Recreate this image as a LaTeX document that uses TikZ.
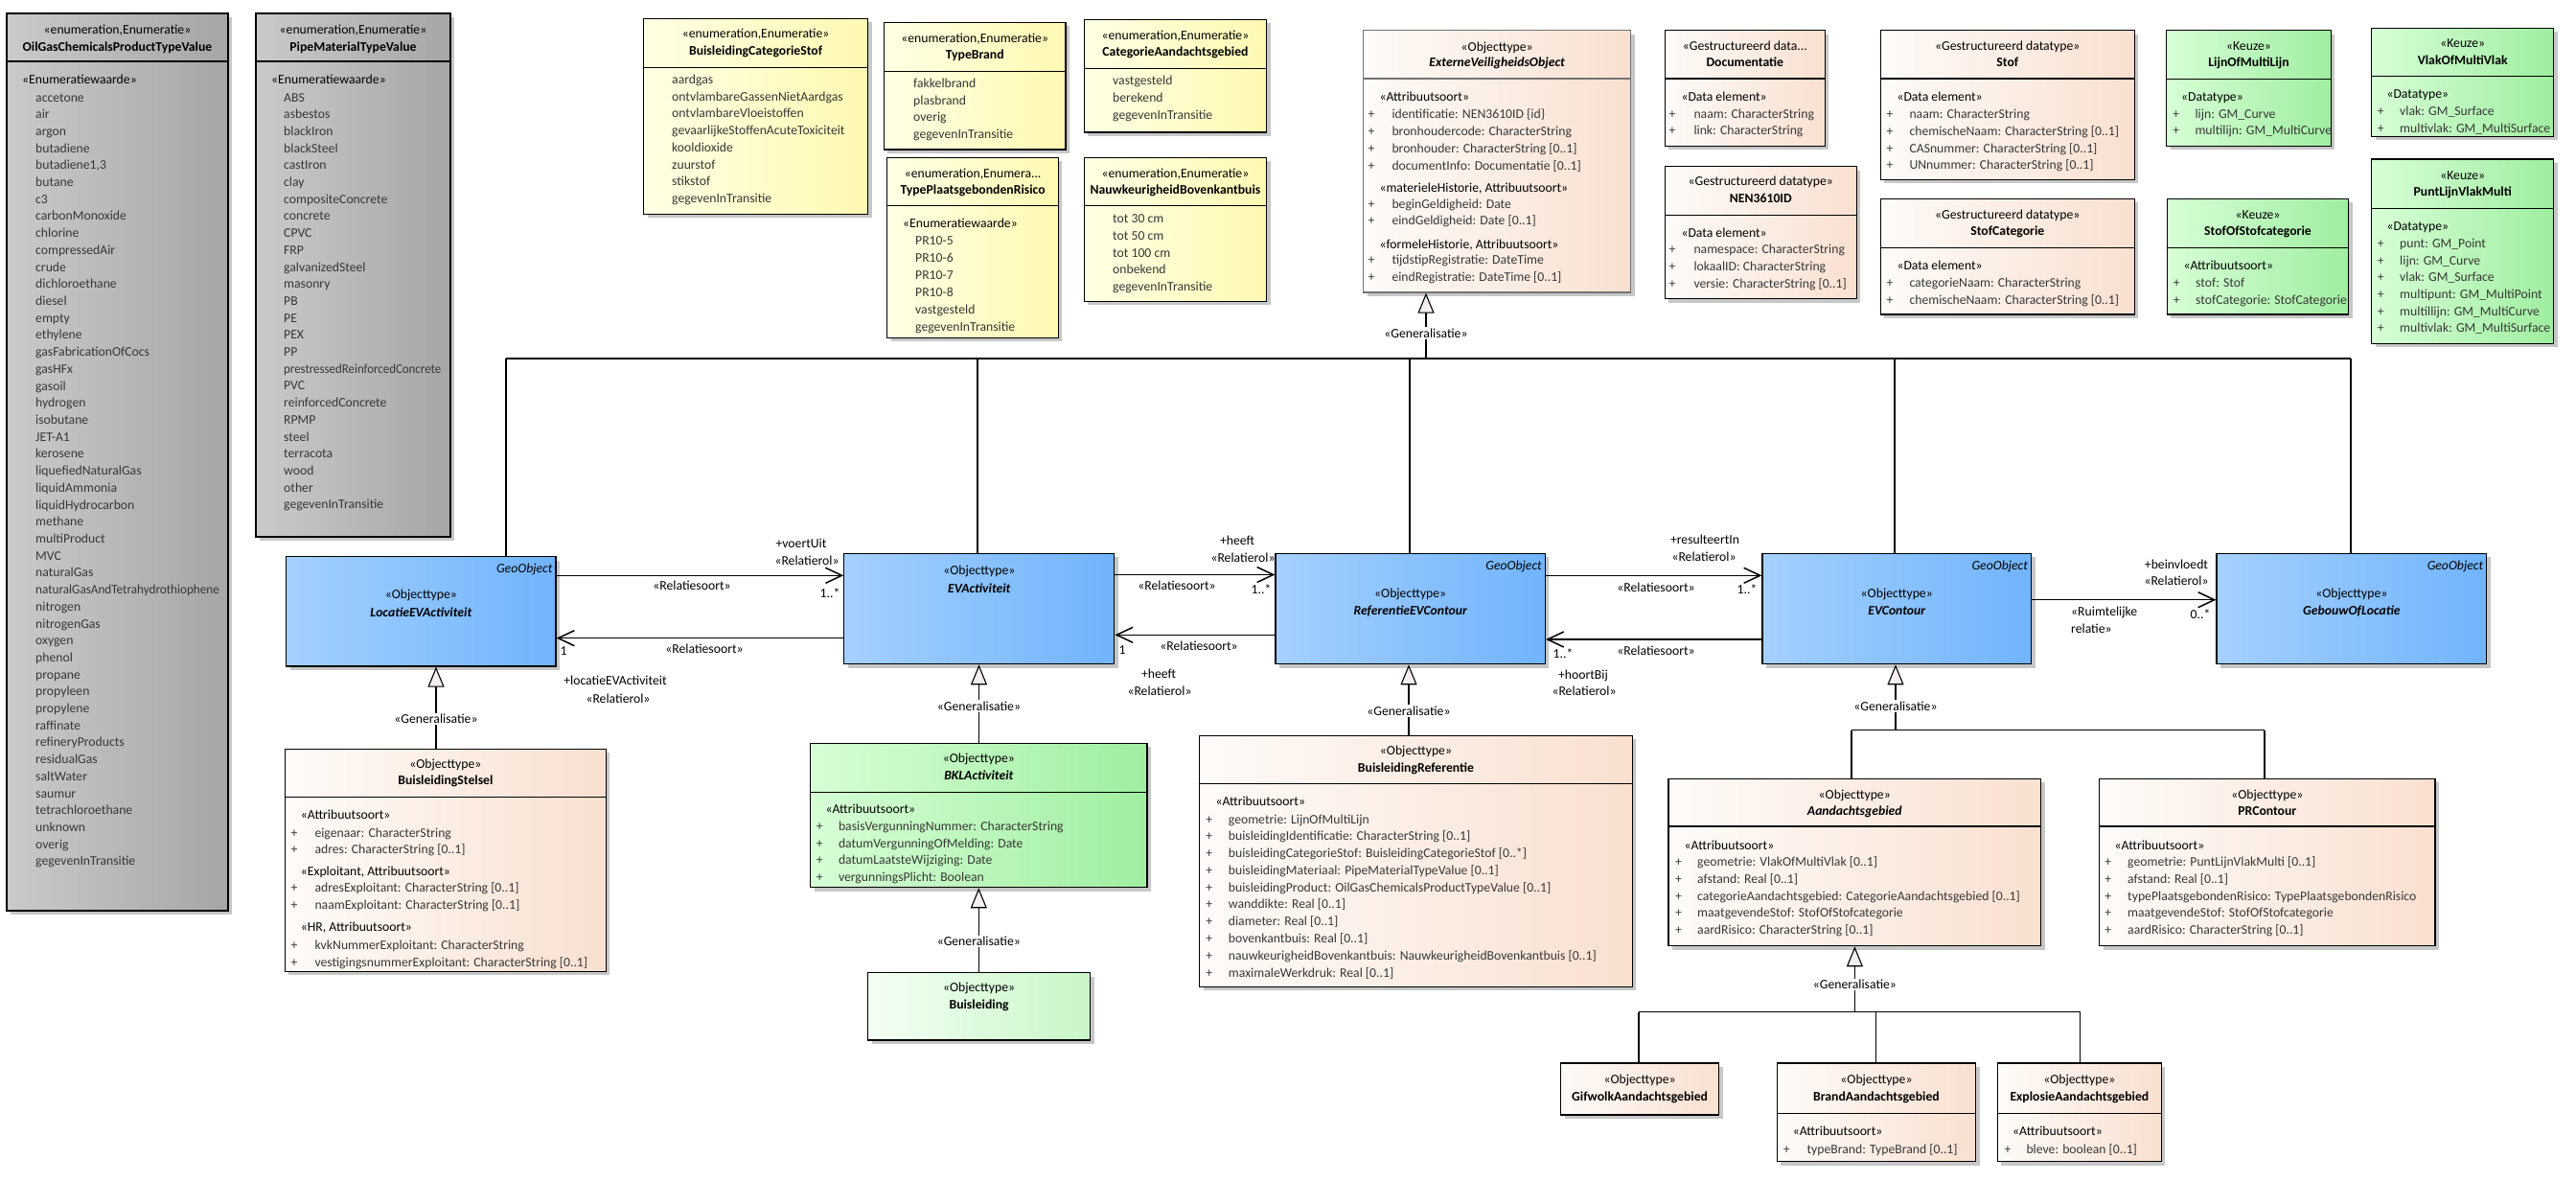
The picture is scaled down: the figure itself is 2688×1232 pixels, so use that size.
\documentclass[tikz,border=0pt]{standalone}
\usepackage{fontspec}
\usepackage{graphicx}
\setmainfont{Carlito}
\usetikzlibrary{arrows.meta,shadows,fit}
\definecolor{grayL}{RGB}{202,202,202}
\definecolor{grayR}{RGB}{166,166,166}
\definecolor{yelL}{RGB}{255,255,228}
\definecolor{yelR}{RGB}{255,249,178}
\definecolor{peachL}{RGB}{254,251,248}
\definecolor{peachR}{RGB}{249,224,208}
\definecolor{grnL}{RGB}{214,255,214}
\definecolor{grnR}{RGB}{160,238,160}
\definecolor{lgrnL}{RGB}{244,255,244}
\definecolor{lgrnR}{RGB}{200,246,200}
\definecolor{bluL}{RGB}{165,208,255}
\definecolor{bluR}{RGB}{112,180,252}
\definecolor{txtgray}{RGB}{55,55,55}
\definecolor{genfill}{RGB}{246,238,238}
\newcommand\fs{\fontsize{13.7pt}{17.7pt}\selectfont}
\tikzset{
  box/.style={draw=black,line width=1.2pt,inner sep=0pt,
    drop shadow={shadow xshift=4pt,shadow yshift=-4pt,fill=black!22,opacity=1}},
  graybox/.style={box,left color=grayL,right color=grayR},
  yelbox/.style={box,left color=yelL,right color=yelR},
  peachbox/.style={box,left color=peachL,right color=peachR},
  grnbox/.style={box,left color=grnL,right color=grnR},
  lgrnbox/.style={box,left color=lgrnL,right color=lgrnR},
  blubox/.style={box,left color=bluL,right color=bluR},
  sepline/.style={line width=1.2pt},
  ctr/.style={anchor=base,inner sep=0pt,yshift=-4pt,font=\fs},
  lft/.style={anchor=base west,inner sep=0pt,yshift=-4pt,font=\fs},
  rgt/.style={anchor=base east,inner sep=0pt,yshift=-4pt,xshift=-4pt,font=\fs\itshape},
  itm/.style={lft,text=txtgray},
  glab/.style={ctr,fill=white,inner sep=1.5pt},
  gen/.style={line width=1.1pt,-{Triangle[length=21pt,width=17pt,fill=genfill]}},
  genl/.style={line width=1.1pt},
  assoc/.style={line width=1.5pt,-{Straight Barb[length=17pt,width=16pt,line width=1.5pt]}},
}
\newcommand\umlcls[6]{\node[#6,fit={(#2,#3) (#4,#5)}] (#1) {};}
\newcommand\sepl[2]{\draw[sepline] (#1.west |- 0,#2) -- (#1.east |- 0,#2);}
\newcommand\hdr[5]{\node[ctr] (#1-st) at (#1.north |- 0,#2) {#4};\node[ctr,font=\fs\bfseries] (#1-ti) at (#1.north |- 0,#3) {#5};}
\newcommand\stl[4]{\node[lft] (#1) at (#2,#3) {#4};}
\newcommand\items[5]{\foreach \t [count=\i from 0] in {#5}{\node[itm] (#1-\i) at (#2,{#3+\i*#4}) {\t};}}
\newcommand\attrs[6]{\foreach \t [count=\i from 0] in {#6}{\node[ctr,text=txtgray] (#1-p\i) at (#2,{#4+\i*#5}) {+};\node[itm] (#1-\i) at (#3,{#4+\i*#5}) {\t};}}
\begin{document}
\begin{tikzpicture}[x=1pt,y=-1pt]
\fill[white] (0,0) rectangle (2688,1232);
\useasboundingbox (0,0) rectangle (2688,1232);

% ---------- gray enumerations
\umlcls{oil}{7}{14}{238}{950}{graybox}
\sepl{oil}{64}
\hdr{oil}{31}{49}{«enumeration,Enumeratie»}{OilGasChemicalsProductTypeValue}
\stl{oil-s1}{23}{83}{«Enumeratiewaarde»}
\items{oili}{37}{102}{17.71}{accetone,air,argon,butadiene,{butadiene1,3},butane,c3,carbonMonoxide,chlorine,compressedAir,crude,dichloroethane,diesel,empty,ethylene,gasFabricationOfCocs,gasHFx,gasoil,hydrogen,isobutane,JET-A1,kerosene,liquefiedNaturalGas,liquidAmmonia,liquidHydrocarbon,methane,multiProduct,MVC,naturalGas,{\scalebox{0.96}[1]{naturalGasAndTetrahydrothiophene}},nitrogen,nitrogenGas,oxygen,phenol,propane,propyleen,propylene,raffinate,refineryProducts,residualGas,saltWater,saumur,tetrachloroethane,unknown,overig,gegevenInTransitie}

\umlcls{pipe}{267}{14}{470}{560}{graybox}
\sepl{pipe}{64}
\hdr{pipe}{31}{49}{«enumeration,Enumeratie»}{PipeMaterialTypeValue}
\stl{pipe-s1}{283}{83}{«Enumeratiewaarde»}
\items{pipei}{296}{102}{17.7}{ABS,asbestos,blackIron,blackSteel,castIron,clay,compositeConcrete,concrete,CPVC,FRP,galvanizedSteel,masonry,PB,PE,PEX,PP,{\scalebox{0.94}[1]{prestressedReinforcedConcrete}},PVC,reinforcedConcrete,RPMP,steel,terracota,wood,other,gegevenInTransitie}

% ---------- yellow enumerations
\umlcls{bcs}{671.5}{19.3}{905.7}{223.3}{yelbox}
\sepl{bcs}{70.3}
\hdr{bcs}{35.3}{53.3}{«enumeration,Enumeratie»}{BuisleidingCategorieStof}
\items{bcsi}{701}{83.3}{17.77}{aardgas,ontvlambareGassenNietAardgas,ontvlambareVloeistoffen,gevaarlijkeStoffenAcuteToxiciteit,kooldioxide,zuurstof,stikstof,gegevenInTransitie}

\umlcls{tb}{922.4}{23.3}{1112}{156}{yelbox}
\sepl{tb}{74.3}
\hdr{tb}{40}{57.7}{«enumeration,Enumeratie»}{TypeBrand}
\items{tbi}{953}{87.3}{17.8}{fakkelbrand,plasbrand,overig,gegevenInTransitie}

\umlcls{cag}{1131.4}{20.3}{1321.5}{138}{yelbox}
\sepl{cag}{71.3}
\hdr{cag}{37.7}{54.7}{«enumeration,Enumeratie»}{CategorieAandachtsgebied}
\items{cagi}{1161}{84.7}{18}{vastgesteld,berekend,gegevenInTransitie}

\umlcls{tpr}{925.8}{164.3}{1104.4}{352.3}{yelbox}
\sepl{tpr}{214.3}
\hdr{tpr}{181}{198.7}{«enumeration,Enumera...}{TypePlaatsgebondenRisico}
\stl{tpr-s1}{942}{233.3}{«Enumeratiewaarde»}
\items{tpri}{955}{251.7}{17.9}{PR10-5,PR10-6,PR10-7,PR10-8,vastgesteld,gegevenInTransitie}

\umlcls{nbk}{1131.4}{164.3}{1321.5}{314.3}{yelbox}
\sepl{nbk}{214.3}
\hdr{nbk}{181}{198.3}{«enumeration,Enumeratie»}{NauwkeurigheidBovenkantbuis}
\items{nbki}{1161}{228.7}{17.65}{tot 30 cm,tot 50 cm,tot 100 cm,onbekend,gegevenInTransitie}

% ---------- ExterneVeiligheidsObject
\umlcls{evo}{1422.7}{31.7}{1701.7}{305}{peachbox,draw=black!55}
\draw[sepline,draw=black!55] (evo.west |- 0,82) -- (evo.east |- 0,82);
\hdr{evo}{49.3}{65.3}{«Objecttype»}{\itshape ExterneVeiligheidsObject}
\stl{evo-s1}{1439.3}{101}{«Attribuutsoort»}
\attrs{evoa}{1431}{1452.3}{119}{18.1}{identificatie: NEN3610ID \{id\},bronhoudercode: CharacterString,bronhouder: CharacterString [0..1],documentInfo: Documentatie [0..1]}
\stl{evo-s2}{1439.3}{196}{«materieleHistorie, Attribuutsoort»}
\attrs{evob}{1431}{1452.3}{213.3}{17.4}{beginGeldigheid: Date,eindGeldigheid: Date [0..1]}
\stl{evo-s3}{1439.3}{255}{«formeleHistorie, Attribuutsoort»}
\attrs{evoc}{1431}{1452.3}{271.3}{17.7}{tijdstipRegistratie: DateTime,eindRegistratie: DateTime [0..1]}

% ---------- datatypes
\umlcls{doc}{1737.3}{31.7}{1904.3}{152.3}{peachbox}
\sepl{doc}{82}
\hdr{doc}{48.7}{65.3}{«Gestructureerd data...}{Documentatie}
\stl{doc-s1}{1754.3}{101.3}{«Data element»}
\attrs{doca}{1745}{1767.3}{119.7}{17}{naam: CharacterString,link: CharacterString}

\umlcls{nen}{1737.3}{173.7}{1937.3}{311.7}{peachbox}
\sepl{nen}{224.3}
\hdr{nen}{189.7}{207.3}{«Gestructureerd datatype»}{NEN3610ID}
\stl{nen-s1}{1754.3}{243.3}{«Data element»}
\attrs{nena}{1745}{1767.3}{260.7}{17.8}{namespace: CharacterString,lokaalID: CharacterString,versie: CharacterString [0..1]}

\umlcls{stof}{1962.3}{31.7}{2227.3}{187.3}{peachbox}
\sepl{stof}{82}
\hdr{stof}{48.7}{65.3}{«Gestructureerd datatype»}{Stof}
\stl{stof-s1}{1979.3}{101.3}{«Data element»}
\attrs{stofa}{1972}{1992.3}{119.7}{17.7}{naam: CharacterString,chemischeNaam: CharacterString [0..1],CASnummer: CharacterString [0..1],UNnummer: CharacterString [0..1]}

\umlcls{stc}{1962.3}{207.3}{2227.3}{328}{peachbox}
\sepl{stc}{258.3}
\hdr{stc}{224.3}{241.3}{«Gestructureerd datatype»}{StofCategorie}
\stl{stc-s1}{1979.3}{277.3}{«Data element»}
\attrs{stca}{1972}{1992.3}{295.7}{17.3}{categorieNaam: CharacterString,chemischeNaam: CharacterString [0..1]}

% ---------- Keuze (green)
\umlcls{lml}{2260.7}{31.7}{2432.3}{152.3}{grnbox}
\sepl{lml}{82.3}
\hdr{lml}{48.7}{65.3}{«Keuze»}{LijnOfMultiLijn}
\stl{lml-s1}{2276}{101.3}{«Datatype»}
\attrs{lmla}{2270.7}{2290.3}{119.3}{17.4}{lijn: GM\_Curve,multilijn: GM\_MultiCurve}

\umlcls{vmv}{2474.7}{29.3}{2664.7}{142.3}{grnbox}
\sepl{vmv}{79.3}
\hdr{vmv}{45.7}{63.3}{«Keuze»}{VlakOfMultiVlak}
\stl{vmv-s1}{2490.3}{98.7}{«Datatype»}
\attrs{vmva}{2484.3}{2504}{116.7}{17.6}{vlak: GM\_Surface,multivlak: GM\_MultiSurface}

\umlcls{sos}{2261.3}{207.3}{2450.7}{328}{grnbox}
\sepl{sos}{258.3}
\hdr{sos}{224.3}{241.3}{«Keuze»}{StofOfStofcategorie}
\stl{sos-s1}{2278.3}{277.3}{«Attribuutsoort»}
\attrs{sosa}{2271.3}{2291}{295.7}{17.3}{stof: Stof,stofCategorie: StofCategorie}

\umlcls{plv}{2474.7}{166}{2664.7}{358.3}{grnbox}
\sepl{plv}{217.3}
\hdr{plv}{183.3}{200.3}{«Keuze»}{PuntLijnVlakMulti}
\stl{plv-s1}{2490.3}{236.7}{«Datatype»}
\attrs{plva}{2484.3}{2504}{254.7}{17.6}{punt: GM\_Point,lijn: GM\_Curve,vlak: GM\_Surface,multipunt: GM\_MultiPoint,multillijn: GM\_MultiCurve,multivlak: GM\_MultiSurface}

% ---------- middle row (blue)
\umlcls{locev}{298.8}{580.7}{580}{695}{blubox}
\node[rgt] (locev-g) at (locev.east |- 0,593) {GeoObject};
\hdr{locev}{620}{639}{«Objecttype»}{\itshape LocatieEVActiviteit}

\umlcls{evact}{880.8}{577.3}{1162.8}{692.7}{blubox}
\hdr{evact}{595}{614.5}{«Objecttype»}{\itshape EVActiviteit}

\umlcls{ref}{1331}{577.3}{1612.4}{692.7}{blubox}
\node[rgt] (ref-g) at (ref.east |- 0,590.7) {GeoObject};
\hdr{ref}{619}{637.7}{«Objecttype»}{\itshape ReferentieEVContour}

\umlcls{evc}{1839}{577.3}{2119.5}{692.7}{blubox}
\node[rgt] (evc-g) at (evc.east |- 0,590.7) {GeoObject};
\hdr{evc}{619}{637.7}{«Objecttype»}{\itshape EVContour}

\umlcls{geb}{2313}{577.3}{2594.7}{692.7}{blubox}
\node[rgt] (geb-g) at (geb.east |- 0,590.7) {GeoObject};
\hdr{geb}{619}{637.7}{«Objecttype»}{\itshape GebouwOfLocatie}

% ---------- lower classes
\umlcls{bs}{297.4}{781.3}{632.4}{1013.3}{peachbox}
\sepl{bs}{831.3}
\hdr{bs}{797.7}{814.3}{«Objecttype»}{BuisleidingStelsel}
\stl{bs-s1}{313.7}{850.3}{«Attribuutsoort»}
\attrs{bsa}{307}{328.3}{869}{17.5}{eigenaar: CharacterString,adres: CharacterString [0..1]}
\stl{bs-s2}{313.7}{909.7}{«Exploitant, Attribuutsoort»}
\attrs{bsb}{307}{328.3}{926.7}{18}{adresExploitant: CharacterString [0..1],naamExploitant: CharacterString [0..1]}
\stl{bs-s3}{313.7}{967.7}{«HR, Attribuutsoort»}
\attrs{bsc}{307}{328.3}{986}{18}{kvkNummerExploitant: CharacterString,vestigingsnummerExploitant: CharacterString [0..1]}

\umlcls{bkl}{845.7}{775.3}{1197}{925.7}{grnbox}
\sepl{bkl}{826.7}
\hdr{bkl}{791.7}{809.3}{«Objecttype»}{\itshape BKLActiviteit}
\stl{bkl-s1}{861.4}{844.7}{«Attribuutsoort»}
\attrs{bkla}{855.2}{874.8}{862.7}{17.5}{basisVergunningNummer: CharacterString,datumVergunningOfMelding: Date,datumLaatsteWijziging: Date,vergunningsPlicht: Boolean}

\umlcls{bl}{905.7}{1014.7}{1137.5}{1085}{lgrnbox}
\hdr{bl}{1030.3}{1048}{«Objecttype»}{Buisleiding}

\umlcls{bref}{1251.7}{767.3}{1703.3}{1029.3}{peachbox}
\sepl{bref}{817.3}
\hdr{bref}{783.3}{801.7}{«Objecttype»}{BuisleidingReferentie}
\stl{bref-s1}{1268.3}{836.7}{«Attribuutsoort»}
\attrs{brefa}{1261.7}{1281.7}{855}{17.78}{geometrie: LijnOfMultiLijn,buisleidingIdentificatie: CharacterString [0..1],buisleidingCategorieStof: BuisleidingCategorieStof [0..*],buisleidingMateriaal: PipeMaterialTypeValue [0..1],buisleidingProduct: OilGasChemicalsProductTypeValue [0..1],wanddikte: Real [0..1],diameter: Real [0..1],bovenkantbuis: Real [0..1],nauwkeurigheidBovenkantbuis: NauwkeurigheidBovenkantbuis [0..1],maximaleWerkdruk: Real [0..1]}

\umlcls{aand}{1741}{812.3}{2129.5}{986.7}{peachbox}
\sepl{aand}{862}
\hdr{aand}{829}{846.7}{«Objecttype»}{\itshape Aandachtsgebied}
\stl{aand-s1}{1757.5}{882.3}{«Attribuutsoort»}
\attrs{aanda}{1751.4}{1771}{899.7}{17.75}{geometrie: VlakOfMultiVlak [0..1],afstand: Real [0..1],categorieAandachtsgebied: CategorieAandachtsgebied [0..1],maatgevendeStof: StofOfStofcategorie,aardRisico: CharacterString [0..1]}

\umlcls{prc}{2190.6}{812.3}{2541}{986.7}{peachbox}
\sepl{prc}{862}
\hdr{prc}{829}{846.7}{«Objecttype»}{PRContour}
\stl{prc-s1}{2206.5}{882.3}{«Attribuutsoort»}
\attrs{prca}{2199.8}{2220}{899.7}{17.75}{geometrie: PuntLijnVlakMulti [0..1],afstand: Real [0..1],typePlaatsgebondenRisico: TypePlaatsgebondenRisico,maatgevendeStof: StofOfStofcategorie,aardRisico: CharacterString [0..1]}

\umlcls{gif}{1628.6}{1109}{1793.6}{1163}{peachbox}
\hdr{gif}{1126.7}{1144}{«Objecttype»}{GifwolkAandachtsgebied}

\umlcls{brand}{1854.2}{1109}{2061.7}{1211.7}{peachbox}
\sepl{brand}{1161.3}
\hdr{brand}{1126.7}{1144}{«Objecttype»}{BrandAandachtsgebied}
\stl{brand-s1}{1870.6}{1180.7}{«Attribuutsoort»}
\attrs{branda}{1864.3}{1885.4}{1199}{17.7}{typeBrand: TypeBrand [0..1]}

\umlcls{expl}{2084.4}{1109}{2255.3}{1211.7}{peachbox}
\sepl{expl}{1161.3}
\hdr{expl}{1126.7}{1144}{«Objecttype»}{ExplosieAandachtsgebied}
\stl{expl-s1}{2100}{1180.7}{«Attribuutsoort»}
\attrs{expla}{2095}{2114.3}{1199}{17.7}{bleve: boolean [0..1]}

% ---------- generalisations
\coordinate (g0) at (1488,374);
\draw[genl] (528,374) -- (2453,374);
\foreach \n/\xx in {locev/528,evact/1020,ref/1471,evc/1977,geb/2453}{\draw[genl] (\xx,374) -- (\n.north -| \xx,0);}
\draw[gen] (g0) -- (evo.south -| g0);
\node[glab] (gl0) at (1488,348) {«Generalisatie»};

\draw[gen] (bs.north -| 455,0) -- (locev.south -| 455,0);
\node[glab] (gl1) at (455,750.7) {«Generalisatie»};

\draw[gen] (bkl.north -| 1021.5,0) -- (evact.south -| 1021.5,0);
\node[glab] (gl2) at (1021.5,737) {«Generalisatie»};

\draw[gen] (bl.north -| 1021.3,0) -- (bkl.south -| 1021.3,0);
\node[glab] (gl3) at (1021.3,982.7) {«Generalisatie»};

\draw[gen] (bref.north -| 1470,0) -- (ref.south -| 1470,0);
\node[glab] (gl4) at (1470,742) {«Generalisatie»};

\coordinate (g5) at (1978,761.7);
\draw[genl] (1932,761.7) -- (2363,761.7);
\draw[genl] (1932,761.7) -- (aand.north -| 1932,0);
\draw[genl] (2363,761.7) -- (prc.north -| 2363,0);
\draw[gen] (g5) -- (evc.south -| g5);
\node[glab] (gl5) at (1978,737) {«Generalisatie»};

\coordinate (g6) at (1935.4,1055.7);
\draw[genl] (1710,1055.7) -- (2170.7,1055.7);
\draw[genl] (1710,1055.7) -- (gif.north -| 1710,0);
\draw[genl] (1957.3,1055.7) -- (brand.north -| 1957.3,0);
\draw[genl] (2170.7,1055.7) -- (expl.north -| 2170.7,0);
\draw[gen] (g6) -- (aand.south -| g6);
\node[glab] (gl6) at (1935.4,1027.7) {«Generalisatie»};

% ---------- associations
\draw[assoc] (locev.east |- 0,600.3) -- (evact.west |- 0,600.3);
\node[ctr] (a1a) at (836,567) {+voertUit};
\node[ctr] (a1b) at (842,585) {«Relatierol»};
\node[ctr] (a1c) at (722,611) {«Relatiesoort»};
\node[ctr] (a1d) at (866,619) {1..*};

\draw[assoc] (evact.west |- 0,665.7) -- (locev.east |- 0,665.7);
\node[ctr] (a2a) at (735,677.5) {«Relatiesoort»};
\node[ctr] (a2b) at (588,679.5) {1};
\node[ctr] (a2c) at (642,710) {+locatieEVActiviteit};
\node[ctr] (a2d) at (645,729) {«Relatierol»};

\draw[assoc] (evact.east |- 0,599.5) -- (ref.west |- 0,599.5);
\node[ctr] (a3a) at (1291,564) {+heeft};
\node[ctr] (a3b) at (1297,582.5) {«Relatierol»};
\node[ctr] (a3c) at (1228,611) {«Relatiesoort»};
\node[ctr] (a3d) at (1316,615) {1..*};

\draw[assoc] (ref.west |- 0,662.3) -- (evact.east |- 0,662.3);
\node[ctr] (a4a) at (1171,678) {1};
\node[ctr] (a4b) at (1251,674) {«Relatiesoort»};
\node[ctr] (a4c) at (1209,703.5) {+heeft};
\node[ctr] (a4d) at (1210,721) {«Relatierol»};

\draw[assoc] (ref.east |- 0,600.3) -- (evc.west |- 0,600.3);
\node[ctr] (a5a) at (1779,563) {+resulteertIn};
\node[ctr] (a5b) at (1778,581) {«Relatierol»};
\node[ctr] (a5c) at (1728,613) {«Relatiesoort»};
\node[ctr] (a5d) at (1823,615) {1..*};

\draw[assoc] (evc.west |- 0,667) -- (ref.east |- 0,667);
\node[ctr] (a6a) at (1631,682) {1..*};
\node[ctr] (a6b) at (1728,679.5) {«Relatiesoort»};
\node[ctr] (a6c) at (1652,704) {+hoortBij};
\node[ctr] (a6d) at (1653,721) {«Relatierol»};

\draw[assoc] (evc.east |- 0,625.7) -- (geb.west |- 0,625.7);
\node[ctr] (a7a) at (2271,589) {+beinvloedt};
\node[ctr] (a7b) at (2271,606) {«Relatierol»};
\node[ctr] (a7c) at (2296,641) {0..*};
\node[lft] (a7d) at (2161,638.7) {«Ruimtelijke};
\node[lft] (a7e) at (2161,656) {relatie»};
\end{tikzpicture}
\end{document}
